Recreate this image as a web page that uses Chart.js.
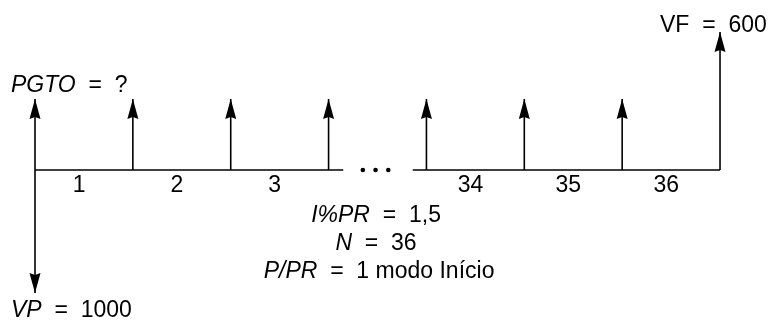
<!DOCTYPE html>
<html>
<head>
<meta charset="utf-8">
<script src="https://cdn.jsdelivr.net/npm/chart.js@4.4.0/dist/chart.umd.min.js"></script>
<style>
  html, body { margin: 0; padding: 0; background: #fff; }
</style>
</head>
<body>
<canvas id="fluxo" width="771" height="320"></canvas>
<script>
// posições na linha do tempo (a posição 4 é o período 33, depois das reticências)
const posicoes = [0, 1, 2, 3, 4, 5, 6, 7];
const periodos = [0, 1, 2, 3, 33, 34, 35, 36];
// comprimento das setas (unidades do desenho)
const setasPgto = [71, 71, 71, 71, 71, 71, 71, null];
const setaVF = [null, null, null, null, null, null, null, 138];
const setaVP = [-123, null, null, null, null, null, null, null];
// números dos intervalos embaixo do eixo
const intervalos = ['1', '2', '3', '34', '35', '36'];
const intervalosPos = [0.45, 1.45, 2.45, 4.45, 5.45, 6.45];
// trechos do eixo antes/depois da quebra e os três pontinhos
const eixoEsq = [0, 3.15];
const eixoDir = [3.86, 7];
const reticencias = [3.35, 3.48, 3.61];

const FONTE = '"Liberation Sans", Arial, sans-serif';
const TAM = 23;

// monta um dataset (segmento) por seta
const datasets = [];
function addSeta(x, h) {
  datasets.push({
    data: [{ x: x, y: 0 }, { x: x, y: h }],
    seta: true,
    showLine: true,
    borderColor: '#000',
    borderWidth: 1.6,
    pointRadius: 0
  });
}
posicoes.forEach((p, i) => {
  if (setasPgto[i] !== null) addSeta(p, setasPgto[i]);
  if (setaVF[i] !== null) addSeta(p, setaVF[i]);
  if (setaVP[i] !== null) addSeta(p, setaVP[i]);
});

// eixo do tempo
[eixoEsq, eixoDir].forEach(trecho => {
  datasets.push({
    data: trecho.map(x => ({ x: x, y: 0 })),
    showLine: true,
    borderColor: '#000',
    borderWidth: 1.6,
    pointRadius: 0
  });
});

// reticências
datasets.push({
  data: reticencias.map(x => ({ x: x, y: 0 })),
  showLine: false,
  pointRadius: 2.3,
  pointHoverRadius: 2.3,
  pointBackgroundColor: '#000',
  pointBorderWidth: 0
});

// desenha a ponta das setas
const pontasPlugin = {
  id: 'pontas',
  afterDatasetsDraw(chart) {
    const ctx = chart.ctx;
    chart.data.datasets.forEach((ds, i) => {
      if (!ds.seta) return;
      const pts = chart.getDatasetMeta(i).data;
      const base = pts[0], tip = pts[1];
      const dir = tip.y < base.y ? 1 : -1; // 1 = para cima
      const comp = 20, meia = 5.5;
      ctx.save();
      ctx.fillStyle = '#000';
      ctx.beginPath();
      ctx.moveTo(tip.x, tip.y);
      ctx.lineTo(tip.x - meia, tip.y + dir * comp);
      ctx.lineTo(tip.x, tip.y + dir * (comp - 2));
      ctx.lineTo(tip.x + meia, tip.y + dir * comp);
      ctx.closePath();
      ctx.fill();
      ctx.restore();
    });
  }
};

// texto com partes em itálico
function desenhaPartes(ctx, partes, x, y, alinhamento) {
  let total = 0;
  partes.forEach(([t, it]) => {
    ctx.font = (it ? 'italic ' : '') + TAM + 'px ' + FONTE;
    total += ctx.measureText(t).width;
  });
  let cx = alinhamento === 'center' ? x - total / 2 : x;
  partes.forEach(([t, it]) => {
    ctx.font = (it ? 'italic ' : '') + TAM + 'px ' + FONTE;
    ctx.fillText(t, cx, y);
    cx += ctx.measureText(t).width;
  });
}

const textosPlugin = {
  id: 'textos',
  afterDraw(chart) {
    const ctx = chart.ctx;
    const sx = chart.scales.x, sy = chart.scales.y;
    ctx.save();
    ctx.fillStyle = '#000';
    ctx.textBaseline = 'alphabetic';

    // números dos intervalos
    ctx.font = TAM + 'px ' + FONTE;
    ctx.textAlign = 'center';
    intervalos.forEach((t, i) => {
      ctx.fillText(t, sx.getPixelForValue(intervalosPos[i]), sy.getPixelForValue(0) + 22);
    });
    ctx.textAlign = 'left';

    desenhaPartes(ctx, [['PGTO', true], ['  =  ?', false]],
      sx.getPixelForValue(posicoes[0]) - 24, sy.getPixelForValue(setasPgto[0]) - 7);
    desenhaPartes(ctx, [['VF  =  600', false]],
      sx.getPixelForValue(posicoes[7]) - 60, sy.getPixelForValue(setaVF[7]));
    desenhaPartes(ctx, [['VP', true], ['  =  1000', false]],
      sx.getPixelForValue(posicoes[0]) - 24, sy.getPixelForValue(setaVP[0]) + 24);

    // parâmetros da calculadora, centralizados
    const cx = sx.getPixelForValue(3.485);
    const y0 = sy.getPixelForValue(0);
    desenhaPartes(ctx, [['I%PR', true], ['  =  1,5', false]], cx, y0 + 52, 'center');
    desenhaPartes(ctx, [['N', true], ['  =  36', false]], cx, y0 + 80, 'center');
    desenhaPartes(ctx, [['P/PR', true], ['  =  1 modo Início', false]], cx + 3, y0 + 108, 'center');
    ctx.restore();
  }
};

new Chart(document.getElementById('fluxo'), {
  type: 'scatter',
  data: { datasets: datasets },
  options: {
    responsive: false,
    animation: false,
    events: [],
    layout: { padding: 0, autoPadding: false },
    scales: {
      x: { type: 'linear', min: -35 / 97.86, max: (771 - 35) / 97.86, display: false },
      y: { type: 'linear', min: -150, max: 170, display: false }
    },
    plugins: {
      legend: { display: false },
      tooltip: { enabled: false }
    }
  },
  plugins: [pontasPlugin, textosPlugin]
});
</script>
</body>
</html>
